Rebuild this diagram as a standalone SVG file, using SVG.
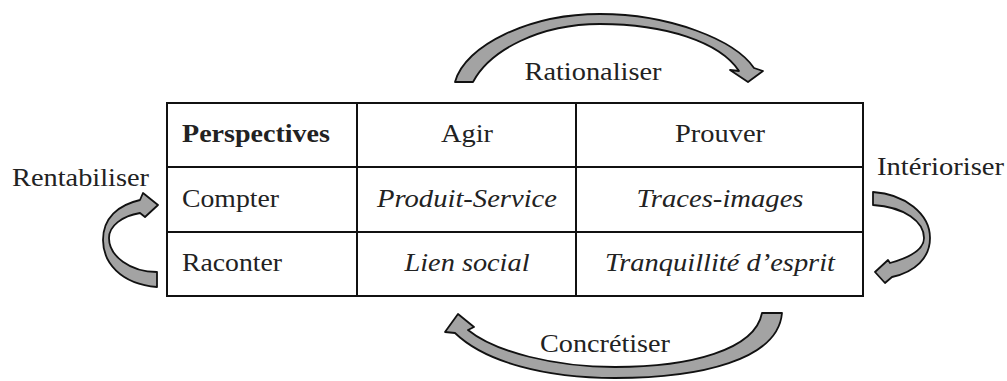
<svg xmlns="http://www.w3.org/2000/svg" width="1007" height="381" viewBox="0 0 1007 381">
<style>
text{font-family:"Liberation Serif","Times New Roman",serif;font-size:25px;fill:#222}
.b{font-weight:bold}
.i{font-style:italic}
.m{text-anchor:middle}
.arrow{fill:#a3a3a3;stroke:#111;stroke-width:1.8;stroke-linejoin:round}
.grid{stroke:#111;stroke-width:2;fill:none}
</style>
<rect width="1007" height="381" fill="#fff"/>
<g id="table">
<rect class="grid" x="167" y="103" width="696" height="193"/>
<line class="grid" x1="357" y1="103" x2="357" y2="296"/>
<line class="grid" x1="576" y1="103" x2="576" y2="296"/>
<line class="grid" x1="167" y1="167" x2="863" y2="167"/>
<line class="grid" x1="167" y1="232" x2="863" y2="232"/>
</g>
<g id="cell-perspectives"><text class="b" x="182" y="142" textLength="148" lengthAdjust="spacingAndGlyphs">Perspectives</text></g>
<g id="cell-agir"><text class="m" x="467" y="142" textLength="52" lengthAdjust="spacingAndGlyphs">Agir</text></g>
<g id="cell-prouver"><text class="m" x="720" y="142" textLength="90" lengthAdjust="spacingAndGlyphs">Prouver</text></g>
<g id="cell-compter"><text x="182" y="207" textLength="97" lengthAdjust="spacingAndGlyphs">Compter</text></g>
<g id="cell-produit"><text class="m i" x="467" y="207" textLength="180" lengthAdjust="spacingAndGlyphs">Produit-Service</text></g>
<g id="cell-traces"><text class="m i" x="720" y="207" textLength="167" lengthAdjust="spacingAndGlyphs">Traces-images</text></g>
<g id="cell-raconter"><text x="182" y="271" textLength="100" lengthAdjust="spacingAndGlyphs">Raconter</text></g>
<g id="cell-lien"><text class="m i" x="467" y="271" textLength="125" lengthAdjust="spacingAndGlyphs">Lien social</text></g>
<g id="cell-tranquillite"><text class="m i" x="720" y="271" textLength="230" lengthAdjust="spacingAndGlyphs">Tranquillité d’esprit</text></g>
<g id="connectors">
<path class="arrow" d="M455,82 C465,45 530,14 600,14 C670,14 735,40 754,68 L763,71 L748,82 L730,70 L739,71 C720,42 665,24 600,24 C540,24 490,50 473,82 Z"/>
<path class="arrow" d="M157,287 C120,284 103,262 103,240 C103,218 118,205 140,200 L143,193 L158,205 L145,217 L140,213 C122,216 109,226 109,238 C109,256 130,272 157,272 Z"/>
<path class="arrow" d="M873,192 C905,194 930,214 930,238 C930,258 915,272 892,277 L885,283 L875,272 L888,260 L890,263 C908,258 924,250 924,238 C924,222 905,207 873,205 Z"/>
<path class="arrow" d="M782,313 C778,360 700,378 615,378 C545,378 485,362 455,333 L445,332 L458,314 L474,327 L468,330 C495,352 555,367 615,367 C690,367 755,350 762,313 Z"/>
</g>
<g id="label-rationaliser"><text class="m" x="593" y="80" textLength="137" lengthAdjust="spacingAndGlyphs">Rationaliser</text></g>
<g id="label-rentabiliser"><text x="12" y="186" textLength="137" lengthAdjust="spacingAndGlyphs">Rentabiliser</text></g>
<g id="label-interioriser"><text x="877" y="175" textLength="127" lengthAdjust="spacingAndGlyphs">Intérioriser</text></g>
<g id="label-concretiser"><text class="m" x="605" y="352" textLength="130" lengthAdjust="spacingAndGlyphs">Concrétiser</text></g>
</svg>
